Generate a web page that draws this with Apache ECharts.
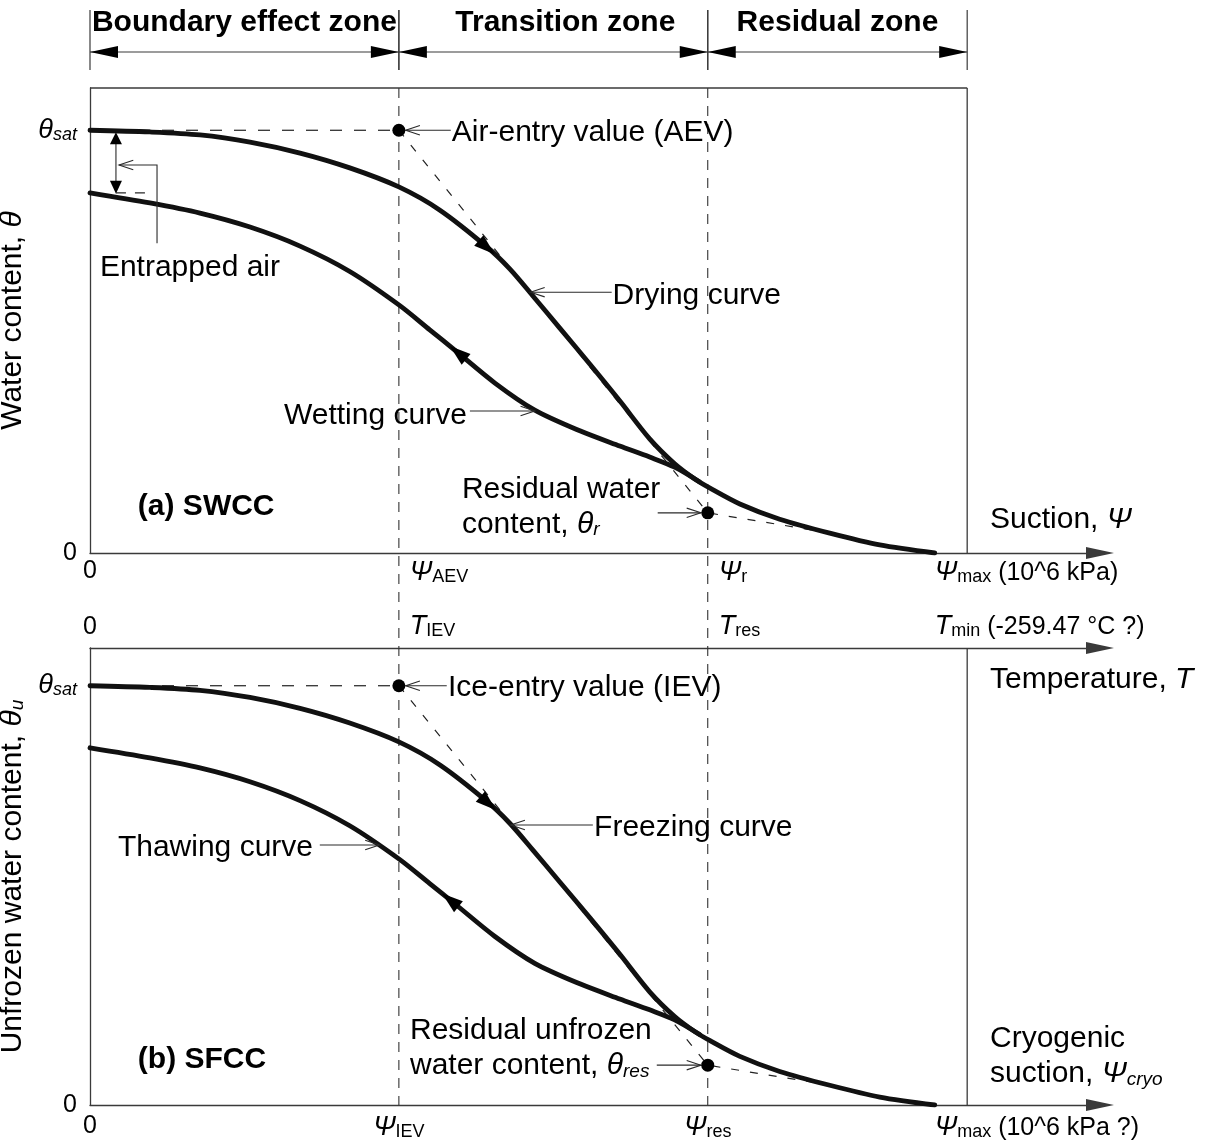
<!DOCTYPE html>
<html>
<head>
<meta charset="utf-8">
<title>SWCC and SFCC</title>
<script src="https://cdn.jsdelivr.net/npm/echarts@6.0.0/dist/echarts.min.js"></script>
<style>
  html, body { margin: 0; padding: 0; background: #ffffff; }
  #chart { width: 1209px; height: 1145px; }
</style>
</head>
<body>
<div id="chart"></div>
<script>
// ---------------------------------------------------------------------------
// Values. Suction is normalised: 1 = entry value (AEV / IEV), 2 = residual value.
// Water content is normalised: 1 = saturated water content.
// ---------------------------------------------------------------------------
const dryingSuction  = [0, 0.194, 0.356, 0.518, 0.680, 0.841, 1.000, 1.133, 1.285, 1.359, 1.434, 1.521, 1.618, 1.715, 1.812, 1.893, 1.958, 2.006, 2.104, 2.233, 2.395, 2.557, 2.735];
const dryingWater    = [1.000, 0.996, 0.989, 0.972, 0.946, 0.911, 0.866, 0.811, 0.724, 0.672, 0.608, 0.532, 0.447, 0.360, 0.270, 0.211, 0.175, 0.154, 0.116, 0.080, 0.047, 0.019, 0.000];
const wettingSuction = [0, 0.194, 0.356, 0.518, 0.680, 0.841, 1.000, 1.100, 1.181, 1.311, 1.440, 1.586, 1.715, 1.812, 1.893, 1.974];
const wettingWater   = [0.852, 0.828, 0.804, 0.771, 0.726, 0.666, 0.587, 0.528, 0.480, 0.402, 0.338, 0.289, 0.253, 0.227, 0.203, 0.168];

// The SFCC branches follow the same normalised shape as the SWCC branches.
const freezingSuction = dryingSuction;
const freezingWater   = dryingWater;
const thawingSuction  = wettingSuction;
const thawingWater    = wettingWater;

const THETA_SAT = 1.0;    // saturated water content
const THETA_RES = 0.095;  // residual (unfrozen) water content
const PSI_ENTRY = 1.0;    // air-entry / ice-entry value
const PSI_RES   = 2.0;    // residual suction
const PSI_MAX   = 2.735;  // maximum suction (10^6 kPa)
const residualTangentEnd = [2.40, 0.047];

const zoneNames = ['Boundary effect zone', 'Transition zone', 'Residual zone'];
const suctionTicks = [0, PSI_ENTRY, PSI_RES, PSI_MAX];
const swccTickLabels = [['0'], ['Ψ', 'AEV'], ['Ψ', 'r'], ['Ψ', 'max', ' (10^6 kPa)']];
const tempTickLabels = [['0'], ['T', 'IEV'], ['T', 'res'], ['T', 'min', ' (-259.47 °C ?)']];
const sfccTickLabels = [['0'], ['Ψ', 'IEV'], ['Ψ', 'res'], ['Ψ', 'max', ' (10^6 kPa ?)']];

// ---------------------------------------------------------------------------
// Layout and styles
// ---------------------------------------------------------------------------
const FONT = '"Liberation Sans", Arial, Helvetica, sans-serif';
const INK = '#000000';
const AXIS = '#3a3a3a';
const X_MAX = 3.27;       // axis runs on past the frame to the arrow head
const BOX_RIGHT = 2.84;   // right edge of each panel frame
const Y_MAX_A = 1.1;
const Y_MAX_B = 1.09;
const GRID_A = { left: 90, top: 88, width: 1010, height: 465 };
const GRID_B = { left: 90, top: 648, width: 1010, height: 457 };
const zoneLabelShift = [0, 12, 0];

const RICH_TICK = {
  t:  { fontFamily: FONT, fontSize: 25, color: INK, verticalAlign: 'bottom' },
  v:  { fontFamily: FONT, fontSize: 27, fontStyle: 'italic', color: INK, verticalAlign: 'bottom' },
  s:  { fontFamily: FONT, fontSize: 18, color: INK, verticalAlign: 'bottom' },
  si: { fontFamily: FONT, fontSize: 18, fontStyle: 'italic', color: INK, verticalAlign: 'bottom' },
  g:  { width: 11 }
};
const RICH_NAME = {
  t: { fontFamily: FONT, fontSize: 30, color: INK, verticalAlign: 'bottom', padding: [5, 0, 0, 0] },
  v: { fontFamily: FONT, fontSize: 30, fontStyle: 'italic', color: INK, verticalAlign: 'bottom', padding: [5, 0, 0, 0] },
  s: { fontFamily: FONT, fontSize: 19, fontStyle: 'italic', color: INK, verticalAlign: 'bottom' }
};
// zrender rich styles for text drawn by custom series
const RICH_NOTE = {
  t: { fontFamily: FONT, fontSize: 30, fill: INK, verticalAlign: 'bottom', padding: [5, 0, 0, 0] },
  v: { fontFamily: FONT, fontSize: 30, fontStyle: 'italic', fill: INK, verticalAlign: 'bottom', padding: [5, 0, 0, 0] },
  s: { fontFamily: FONT, fontSize: 19, fontStyle: 'italic', fill: INK, verticalAlign: 'bottom' },
  b: { fontFamily: FONT, fontSize: 30, fontWeight: 'bold', fill: INK, verticalAlign: 'bottom' }
};

// Annotations: text anchor and leader line (ending in an open arrow head), in data units
const notesA = [
  { text: '{t|Air-entry value (AEV)}', at: [1.1715, THETA_SAT], align: 'left',
    leader: [[1.168, THETA_SAT], [1.022, THETA_SAT]] },
  { text: '{t|Drying curve}', at: [1.692, 0.615], align: 'left',
    leader: [[1.689, 0.617], [1.426, 0.617]] },
  { text: '{t|Wetting curve}', at: [1.220, 0.331], align: 'right',
    leader: [[1.230, 0.336], [1.440, 0.336]] },
  { text: '{t|Residual water}\n{t|content, }{v|θ}{s|r}', at: [1.204, 0.115], align: 'left',
    leader: [[1.838, THETA_RES], [1.978, THETA_RES]] },
  { text: '{t|Entrapped air}', at: [0.032, 0.681], align: 'left',
    leader: [[0.217, 0.733], [0.217, 0.918], [0.094, 0.918]] },
  { text: '{b|(a) SWCC}', at: [0.155, 0.109], align: 'left' }
];
const notesB = [
  { text: '{t|Ice-entry value (IEV)}', at: [1.159, THETA_SAT], align: 'left',
    leader: [[1.155, THETA_SAT], [1.022, THETA_SAT]] },
  { text: '{t|Freezing curve}', at: [1.632, 0.668], align: 'left',
    leader: [[1.628, 0.668], [1.362, 0.668]] },
  { text: '{t|Thawing curve}', at: [0.722, 0.620], align: 'right',
    leader: [[0.744, 0.620], [0.937, 0.620]] },
  { text: '{t|Residual unfrozen}\n{t|water content, }{v|θ}{s|res}', at: [1.036, 0.141], align: 'left',
    leader: [[1.835, THETA_RES], [1.978, THETA_RES]] },
  { text: '{b|(b) SFCC}', at: [0.155, 0.107], align: 'left' }
];

// Direction arrows sitting on the curves
const curveSets = {
  drying:  [dryingSuction, dryingWater],
  wetting: [wettingSuction, wettingWater],
  freezing: [freezingSuction, freezingWater],
  thawing:  [thawingSuction, thawingWater]
};
const arrowsA = [{ curve: 'drying', at: 1.31, dir: 1 }, { curve: 'wetting', at: 1.165, dir: -1 }];
const arrowsB = [{ curve: 'freezing', at: 1.315, dir: 1 }, { curve: 'thawing', at: 1.14, dir: -1 }];

// ---------------------------------------------------------------------------
// Helpers
// ---------------------------------------------------------------------------
function pairs(xs, ys) { return xs.map((x, i) => [x, ys[i]]); }

function interp(xs, ys, x) {
  for (let i = 1; i < xs.length; i++) {
    if (x <= xs[i]) {
      const t = (x - xs[i - 1]) / (xs[i] - xs[i - 1]);
      return ys[i - 1] + t * (ys[i] - ys[i - 1]);
    }
  }
  return ys[ys.length - 1];
}

function tickText(labels, lead) {
  return function (value) {
    const i = suctionTicks.findIndex(t => Math.abs(t - value) < 1e-6);
    if (i < 0) return '';
    const [main, sub, tail] = labels[i];
    let s = (lead && lead[i]) ? '{g| }' : '';
    if (sub === undefined) return s + '{t|' + main + '}';
    s += '{v|' + main + '}{s|' + sub + '}';
    if (tail) s += '{t|' + tail + '}';
    return s;
  };
}

const arrowLine = {
  show: true, symbol: ['none', 'triangle'], symbolSize: [12, 28],
  lineStyle: { color: AXIS, width: 1.3 }
};

function xAxisBase(grid, pos) {
  return {
    type: 'value', gridIndex: grid, position: pos, min: 0, max: X_MAX,
    splitLine: { show: false }, axisTick: { show: false }, axisLine: { show: false }
  };
}

function yAxisFor(grid, max, name) {
  return {
    type: 'value', gridIndex: grid, min: 0, max: max,
    axisLine: { show: true, lineStyle: { color: AXIS, width: 1.3 } },
    axisTick: { show: false }, splitLine: { show: false },
    axisLabel: {
      customValues: [0, THETA_SAT], margin: 13, rich: RICH_TICK,
      formatter: v => (v === 0 ? '{t|0}' : '{v|θ}{si|sat}')
    },
    name: name, nameLocation: 'middle', nameGap: 46,
    nameTextStyle: { rich: RICH_NAME }
  };
}

function openHead(tip, prev) {
  const a = Math.atan2(tip[1] - prev[1], tip[0] - prev[0]);
  const L = 15, spread = 0.32;
  return [
    [tip[0] - L * Math.cos(a - spread), tip[1] - L * Math.sin(a - spread)],
    [tip[0], tip[1]],
    [tip[0] - L * Math.cos(a + spread), tip[1] - L * Math.sin(a + spread)]
  ];
}

function notesSeries(notes, xi, yi) {
  return {
    type: 'custom', coordinateSystem: 'cartesian2d', xAxisIndex: xi, yAxisIndex: yi,
    silent: true, z: 8,
    data: notes.map(n => n.at),
    renderItem: function (params, api) {
      const n = notes[params.dataIndex];
      const children = [];
      if (n.leader) {
        const pts = n.leader.map(p => api.coord(p));
        children.push({ type: 'polyline', shape: { points: pts },
          style: { stroke: '#2a2a2a', lineWidth: 1.1, fill: null } });
        children.push({ type: 'polyline',
          shape: { points: openHead(pts[pts.length - 1], pts[pts.length - 2]) },
          style: { stroke: '#2a2a2a', lineWidth: 1.1, fill: null } });
      }
      const p = api.coord(n.at);
      children.push({ type: 'text', style: {
        text: n.text, rich: RICH_NOTE, x: p[0], y: p[1], align: n.align,
        verticalAlign: 'middle', fill: INK, fontFamily: FONT, fontSize: 30
      } });
      return { type: 'group', children: children };
    }
  };
}

function arrowsSeries(list, xi, yi) {
  return {
    type: 'custom', coordinateSystem: 'cartesian2d', xAxisIndex: xi, yAxisIndex: yi,
    silent: true, z: 7,
    data: list.map(a => [a.at, 0]),
    renderItem: function (params, api) {
      const a = list[params.dataIndex];
      const [xs, ys] = curveSets[a.curve];
      const tip = api.coord([a.at, interp(xs, ys, a.at)]);
      const bx = a.at - a.dir * 0.05;
      const back = api.coord([bx, interp(xs, ys, bx)]);
      let dx = tip[0] - back[0], dy = tip[1] - back[1];
      const len = Math.hypot(dx, dy); dx /= len; dy /= len;
      const L = 21, W = 7;
      const cx = tip[0] - dx * L, cy = tip[1] - dy * L;
      return { type: 'polygon', shape: { points: [tip, [cx - dy * W, cy + dx * W], [cx + dy * W, cy - dx * W]] },
        style: { fill: '#000' } };
    }
  };
}

function curveSeries(xs, ys, xi, yi) {
  return {
    type: 'line', xAxisIndex: xi, yAxisIndex: yi, data: pairs(xs, ys),
    smooth: 0.3, symbol: 'none', silent: true, z: 5,
    lineStyle: { color: '#111111', width: 4.8, cap: 'round', join: 'round' }
  };
}

function dashedSeries(points, dash, xi, yi) {
  return {
    type: 'line', xAxisIndex: xi, yAxisIndex: yi, data: points, symbol: 'none',
    silent: true, z: 3, lineStyle: { color: '#222222', width: 1.2, type: dash }
  };
}

function keyPoints(xi, yi) {
  return {
    type: 'scatter', xAxisIndex: xi, yAxisIndex: yi, symbol: 'circle', symbolSize: 13,
    itemStyle: { color: '#000', opacity: 1 }, silent: true, z: 9,
    data: [[PSI_ENTRY, THETA_SAT], [PSI_RES, THETA_RES]]
  };
}

function frameSeries(xi, yi, ymax, withTop) {
  return {
    type: 'custom', coordinateSystem: 'cartesian2d', xAxisIndex: xi, yAxisIndex: yi,
    silent: true, z: 2, data: [[BOX_RIGHT, ymax]],
    renderItem: function (params, api) {
      const p = api.coord([api.value(0), api.value(1)]);
      const o = api.coord([0, 0]);
      const st = { stroke: AXIS, lineWidth: 1.3 };
      const children = [{ type: 'line', shape: { x1: p[0], y1: p[1], x2: p[0], y2: o[1] }, style: st }];
      if (withTop) children.push({ type: 'line', shape: { x1: o[0], y1: p[1], x2: p[0], y2: p[1] }, style: st });
      return { type: 'group', children: children };
    }
  };
}

// ---------------------------------------------------------------------------
const chart = echarts.init(document.getElementById('chart'), null, { renderer: 'canvas', width: 1209, height: 1145 });

const zoneEdges = [0, PSI_ENTRY, PSI_RES, BOX_RIGHT];
const spanToBottom = GRID_B.top + GRID_B.height - GRID_A.top;

const option = {
  animation: false,
  backgroundColor: '#ffffff',
  textStyle: { fontFamily: FONT, color: INK },
  grid: [
    Object.assign({ outerBoundsMode: 'none', containLabel: false, show: false }, GRID_A),
    Object.assign({ outerBoundsMode: 'none', containLabel: false, show: false }, GRID_B)
  ],
  xAxis: [
    // 0: suction axis, panel (a)
    Object.assign(xAxisBase(0, 'bottom'), {
      axisLine: arrowLine,
      axisLabel: { customValues: [0], formatter: tickText(swccTickLabels), align: 'center', margin: 6, rich: RICH_TICK },
      name: '{t|Suction, }{v|Ψ}', nameLocation: 'end', nameGap: -110, nameMoveOverlap: false,
      nameTextStyle: { align: 'left', verticalAlign: 'bottom', padding: [0, 0, 18, 0], rich: RICH_NAME }
    }),
    // 1: suction tick symbols, panel (a)
    Object.assign(xAxisBase(0, 'bottom'), {
      axisLabel: { customValues: [PSI_ENTRY, PSI_RES, PSI_MAX], formatter: tickText(swccTickLabels, [0, 1, 1, 0]),
        align: 'left', margin: 6, rich: RICH_TICK }
    }),
    // 2: cryogenic suction axis, panel (b)
    Object.assign(xAxisBase(1, 'bottom'), {
      axisLine: arrowLine,
      axisLabel: { customValues: [0, PSI_ENTRY, PSI_RES], formatter: tickText(sfccTickLabels), align: 'center', margin: 9, rich: RICH_TICK },
      name: '{t|Cryogenic}\n{t|suction, }{v|Ψ}{s|cryo}', nameLocation: 'end', nameGap: -110, nameMoveOverlap: false,
      nameTextStyle: { align: 'left', verticalAlign: 'bottom', padding: [0, 0, 16, 0], rich: RICH_NAME }
    }),
    // 3: maximum cryogenic suction label
    Object.assign(xAxisBase(1, 'bottom'), {
      axisLabel: { customValues: [PSI_MAX], formatter: tickText(sfccTickLabels), align: 'left', margin: 9, rich: RICH_TICK }
    }),
    // 4: temperature axis along the top of panel (b)
    Object.assign(xAxisBase(1, 'top'), {
      axisLine: arrowLine,
      axisLabel: { customValues: [0], formatter: tickText(tempTickLabels), align: 'center', margin: 8, rich: RICH_TICK },
      name: '{t|Temperature, }{v|T}', nameLocation: 'end', nameGap: -110, nameMoveOverlap: false,
      nameTextStyle: { align: 'left', verticalAlign: 'top', padding: [12, 0, 0, 0], rich: RICH_NAME }
    }),
    // 5: temperature tick symbols
    Object.assign(xAxisBase(1, 'top'), {
      axisLabel: { customValues: [PSI_ENTRY, PSI_RES, PSI_MAX], formatter: tickText(tempTickLabels, [0, 1, 1, 0]),
        align: 'left', margin: 8, rich: RICH_TICK }
    })
  ],
  yAxis: [
    yAxisFor(0, Y_MAX_A, '{t|Water content, }{v|θ}'),
    yAxisFor(1, Y_MAX_B, '{t|Unfrozen water content, }{v|θ}{s|u}')
  ],
  series: [
    // zone header above panel (a)
    {
      type: 'custom', coordinateSystem: 'cartesian2d', xAxisIndex: 0, yAxisIndex: 0, silent: true, z: 4,
      data: zoneNames.map((n, i) => [zoneEdges[i], zoneEdges[i + 1]]),
      renderItem: function (params, api) {
        const i = params.dataIndex;
        const x0 = api.coord([api.value(0), 0])[0];
        const x1 = api.coord([api.value(1), 0])[0];
        const top = params.coordSys.y;
        const yA = top - 36;
        const st = { stroke: AXIS, lineWidth: 1.2 };
        return { type: 'group', children: [
          { type: 'line', shape: { x1: x0, y1: top - 78, x2: x0, y2: top - 18 }, style: st },
          { type: 'line', shape: { x1: x1, y1: top - 78, x2: x1, y2: top - 18 }, style: st },
          { type: 'line', shape: { x1: x0, y1: yA, x2: x1, y2: yA }, style: st },
          { type: 'polygon', shape: { points: [[x0, yA], [x0 + 28, yA - 6], [x0 + 28, yA + 6]] }, style: { fill: '#000' } },
          { type: 'polygon', shape: { points: [[x1, yA], [x1 - 28, yA - 6], [x1 - 28, yA + 6]] }, style: { fill: '#000' } },
          { type: 'text', style: { text: zoneNames[i], x: (x0 + x1) / 2 + zoneLabelShift[i], y: top - 65,
            align: 'center', verticalAlign: 'middle', fill: INK, fontFamily: FONT, fontSize: 30, fontWeight: 'bold' } }
        ] };
      }
    },
    frameSeries(0, 0, Y_MAX_A, true),
    frameSeries(2, 1, Y_MAX_B, false),
    // dashed guides at the entry and residual values, through both panels
    {
      type: 'custom', coordinateSystem: 'cartesian2d', xAxisIndex: 0, yAxisIndex: 0, silent: true, z: 1,
      data: [[PSI_ENTRY, 0], [PSI_RES, 0]],
      renderItem: function (params, api) {
        const x = api.coord([api.value(0), 0])[0];
        const y0 = params.coordSys.y;
        return { type: 'line', shape: { x1: x, y1: y0, x2: x, y2: y0 + spanToBottom },
          style: { stroke: '#333333', lineWidth: 1.1, lineDash: [10, 8] } };
      }
    },
    // panel (a)
    dashedSeries([[0, THETA_SAT], [PSI_ENTRY, THETA_SAT]], [12, 12], 0, 0),
    dashedSeries([[PSI_ENTRY, THETA_SAT], [PSI_RES, THETA_RES], residualTangentEnd], [8, 11], 0, 0),
    curveSeries(dryingSuction, dryingWater, 0, 0),
    curveSeries(wettingSuction, wettingWater, 0, 0),
    arrowsSeries(arrowsA, 0, 0),
    keyPoints(0, 0),
    notesSeries(notesA, 0, 0),
    // entrapped air: double arrow between saturation and the start of the wetting curve
    {
      type: 'custom', coordinateSystem: 'cartesian2d', xAxisIndex: 0, yAxisIndex: 0, silent: true, z: 7,
      data: [[0.084, THETA_SAT, wettingWater[0], 0.184]],
      renderItem: function (params, api) {
        const top = api.coord([api.value(0), api.value(1)]);
        const bot = api.coord([api.value(0), api.value(2)]);
        const xe = api.coord([api.value(3), api.value(2)])[0];
        const x = top[0];
        return { type: 'group', children: [
          { type: 'line', shape: { x1: x, y1: top[1] + 10, x2: x, y2: bot[1] - 10 }, style: { stroke: '#2a2a2a', lineWidth: 1.1 } },
          { type: 'polygon', shape: { points: [[x, top[1] + 2], [x - 6, top[1] + 14], [x + 6, top[1] + 14]] }, style: { fill: '#000' } },
          { type: 'polygon', shape: { points: [[x, bot[1] + 1], [x - 6, bot[1] - 12], [x + 6, bot[1] - 12]] }, style: { fill: '#000' } },
          { type: 'line', shape: { x1: x, y1: bot[1], x2: xe, y2: bot[1] }, style: { stroke: '#2a2a2a', lineWidth: 1.1, lineDash: [10, 9] } }
        ] };
      }
    },
    // panel (b)
    dashedSeries([[0, THETA_SAT], [PSI_ENTRY, THETA_SAT]], [12, 12], 2, 1),
    dashedSeries([[PSI_ENTRY, THETA_SAT], [PSI_RES, THETA_RES], residualTangentEnd], [8, 11], 2, 1),
    curveSeries(freezingSuction, freezingWater, 2, 1),
    curveSeries(thawingSuction, thawingWater, 2, 1),
    arrowsSeries(arrowsB, 2, 1),
    keyPoints(2, 1),
    notesSeries(notesB, 2, 1)
  ]
};

chart.setOption(option);
</script>
</body>
</html>
